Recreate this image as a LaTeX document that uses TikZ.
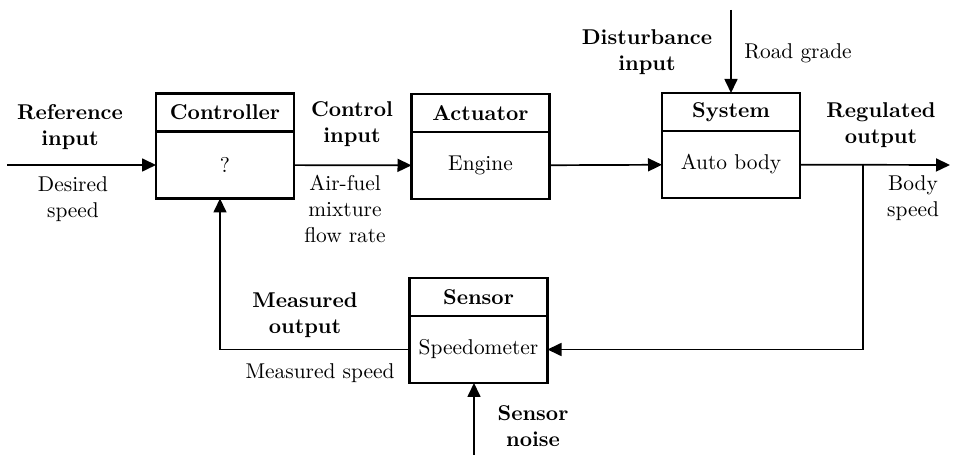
\documentclass[tikz,border=0pt]{standalone}
\usetikzlibrary{positioning,arrows.meta}

\tikzset{
    head/.style={draw, line width=1.4pt, minimum width=69pt, minimum height=19pt,
        inner sep=0pt, outer sep=0pt, font=\bfseries},
    body/.style={draw, line width=1.4pt, minimum width=69pt, minimum height=33.5pt,
        inner sep=0pt, outer sep=0pt},
    sig/.style={line width=0.85pt, -{Triangle[length=7pt,width=6.5pt]}},
    lbl/.style={align=center, inner sep=0pt},
    blbl/.style={lbl, font=\bfseries},
}

\begin{document}
\fontsize{10.7}{12.8}\selectfont
\begin{tikzpicture}[x=0.5pt, y=-0.5pt]
    \useasboundingbox (0,0) rectangle (953,458);

    % Blocks
    \node[head] (ctrlH) at (225,112.5) {Controller};
    \node[body, below=0pt of ctrlH] (ctrl) {?};
    \node[head] (actH) at (480.5,113) {Actuator};
    \node[body, below=0pt of actH] (act) {Engine};
    \node[head] (sysH) at (731,112) {System};
    \node[body, below=0pt of sysH] (sys) {Auto body};
    \node[head] (sensH) at (478.5,297) {Sensor};
    \node[body, below=0pt of sensH] (sens) {Speedometer};

    % Free ends
    \coordinate (refin) at (7,165);
    \coordinate (out) at (950,165);
    \coordinate (branch) at (863,165);
    \coordinate (dist) at (731,10);
    \coordinate (noise) at (474,455);

    % Signals
    \draw[sig] (refin) -- (ctrl);
    \draw[sig] (ctrl) -- (act);
    \draw[sig] (act) -- (sys);
    \draw[sig] (sys) -- (out);
    \draw[sig] (branch) |- (sens);
    \draw[sig] (sens) -| ([xshift=-2.5pt]ctrl.south);
    \draw[sig] (dist) -- (sysH);
    \draw[sig] (noise) -- (noise |- sens.south);

    % Labels
    \node[blbl] (refL) at (70,127) {Reference\\input};
    \node[lbl] (desL) at (73,199) {Desired\\speed};
    \node[blbl] (cinL) at (352,124) {Control\\input};
    \node[lbl] (afL) at (345,209) {Air-fuel\\mixture\\flow rate};
    \node[blbl] (distL) at (647,52) {Disturbance\\input};
    \node[lbl] (roadL) at (798,53) {Road grade};
    \node[blbl] (regL) at (881,125) {Regulated\\output};
    \node[lbl] (bodyL) at (913,198) {Body\\speed};
    \node[blbl] (moutL) at (305,315) {Measured\\output};
    \node[lbl] (mspL) at (320,373) {Measured speed};
    \node[blbl] (noiseL) at (533,426) {Sensor\\noise};
\end{tikzpicture}
\end{document}
